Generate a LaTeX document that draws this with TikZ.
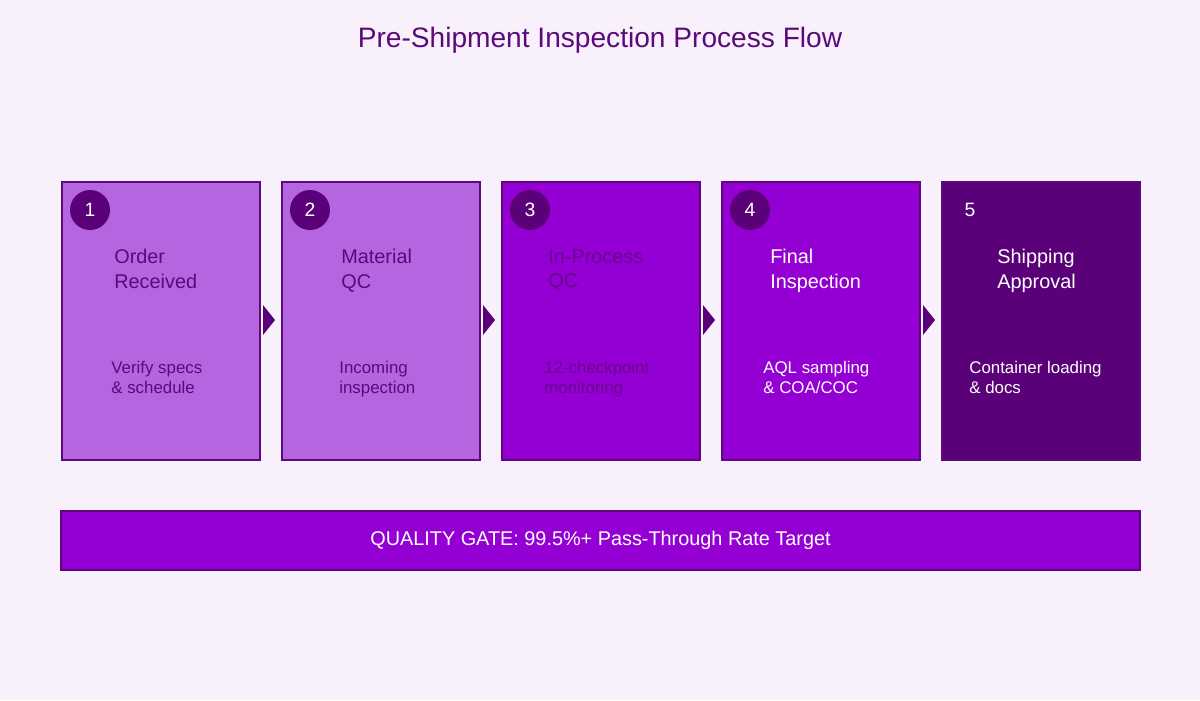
\documentclass[tikz,border=0pt]{standalone}
\usepackage{fontspec}
\setmainfont{Liberation Sans}
\usetikzlibrary{positioning}
\definecolor{bgc}{HTML}{F8F0FA}
\definecolor{lightv}{HTML}{B565E0}
\definecolor{midv}{HTML}{9400D3}
\definecolor{darkv}{HTML}{5A0078}
\definecolor{edgev}{HTML}{5B0A7A}
\tikzset{stage/.style={draw=edgev,line width=1.2pt,minimum width=3.96cm,minimum height=5.56cm,inner sep=0pt,anchor=north west},
         num/.style={circle,fill=darkv,minimum size=0.8cm,inner sep=0pt,text=white,font=\fontsize{11}{13}\selectfont},
         head/.style={anchor=north west,align=left,inner sep=0pt,font=\fontsize{11.3}{14}\selectfont},
         desc/.style={anchor=north west,align=left,inner sep=0pt,font=\fontsize{9.6}{11.5}\selectfont},
         tip/.style={fill=darkv},
        }
\begin{document}
\begin{tikzpicture}[x=0.02cm,y=-0.02cm]
        \fill[bgc](0,0)rectangle(1200,700);
        \useasboundingbox(0,0)rectangle(1200,700);
        \node[text=edgev,font=\fontsize{16}{19}\selectfont](title)at(600,40){Pre-Shipment Inspection Process Flow};

        \node[stage,fill=lightv](s1)at(61,181){};
        \node[stage,fill=lightv](s2)at(281,181){};
        \node[stage,fill=midv](s3)at(501,181){};
        \node[stage,fill=midv](s4)at(721,181){};
        \node[stage,fill=darkv](s5)at(941,181){};

        \node[num]at(90,210){1};
        \node[num]at(310,210){2};
        \node[num]at(530,210){3};
        \node[num]at(750,210){4};
        \node[num]at(970,210){5};

        \node[head,text=edgev]at(114,249){Order\\Received};
        \node[head,text=edgev]at(341,249){Material\\QC};
        \node[head,text=edgev!80!midv]at(548,249){In-Process\\QC};
        \node[head,text=white]at(770,249){Final\\Inspection};
        \node[head,text=white]at(997,249){Shipping\\Approval};

        \node[desc,text=edgev]at(111,361){Verify specs\\\& schedule};
        \node[desc,text=edgev]at(339,361){Incoming\\inspection};
        \node[desc,text=edgev!80!midv]at(544,361){12-checkpoint\\monitoring};
        \node[desc,text=white]at(763,361){AQL sampling\\\& COA/COC};
        \node[desc,text=white]at(969,361){Container loading\\\& docs};

        \foreach \x in {263,483,703,923}
          \fill[tip](\x,305)--(\x+12,320)--(\x,335)--cycle;

        \node[draw=edgev,line width=1.2pt,fill=midv,minimum width=21.6cm,minimum height=1.18cm,text=white,font=\fontsize{11.3}{14}\selectfont](gate)at(600.5,540.5){QUALITY GATE: 99.5\%+ Pass-Through Rate Target};
    \end{tikzpicture}
\end{document}
